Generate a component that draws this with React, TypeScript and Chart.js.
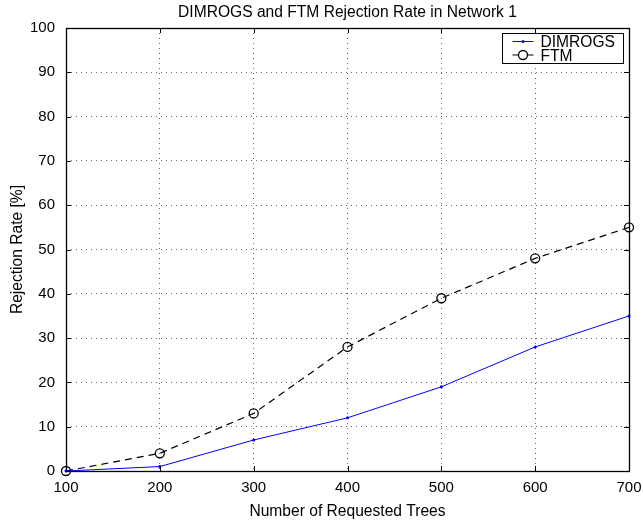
import React, { useEffect, useRef } from "react";
import { Chart, registerables } from "chart.js";

Chart.register(...registerables);

const requestedTrees = [100, 200, 300, 400, 500, 600, 700];
const dimrogsRejection = [0, 1, 7, 12, 19, 28, 35];
const ftmRejection = [0, 4, 13, 28, 39, 48, 55];

const FONT = "'Liberation Sans', Arial, Helvetica, sans-serif";
const TEXT_SIZE = 15.6;

// Box frame with inward tick marks on all four sides
const framePlugin = {
  id: "frame",
  afterDraw(chart: any) {
    const { ctx, chartArea, scales } = chart;
    const { left, right, top, bottom } = chartArea;
    const tl = 5;
    ctx.save();
    ctx.strokeStyle = "#000";
    ctx.lineWidth = 1;
    ctx.beginPath();
    scales.x.ticks.forEach((t: any) => {
      const x = Math.round(scales.x.getPixelForValue(t.value)) + 0.5;
      ctx.moveTo(x, bottom);
      ctx.lineTo(x, bottom - tl);
      ctx.moveTo(x, top);
      ctx.lineTo(x, top + tl);
    });
    scales.y.ticks.forEach((t: any) => {
      const y = Math.round(scales.y.getPixelForValue(t.value)) + 0.5;
      ctx.moveTo(left, y);
      ctx.lineTo(left + tl, y);
      ctx.moveTo(right, y);
      ctx.lineTo(right - tl, y);
    });
    ctx.stroke();
    ctx.lineWidth = 1.3;
    ctx.strokeRect(Math.round(left) + 0.5, Math.round(top) + 0.5, Math.round(right - left), Math.round(bottom - top));
    ctx.restore();
  },
};

// Boxed legend in the upper right corner of the plot area
const boxLegendPlugin = {
  id: "boxLegend",
  afterDraw(chart: any) {
    const { ctx, chartArea } = chart;
    const sets = chart.data.datasets;
    ctx.save();
    ctx.font = `${TEXT_SIZE}px ${FONT}`;
    const textW = Math.max(...sets.map((d: any) => ctx.measureText(d.label).width));
    const padL = 10;
    const lineLen = 21;
    const gap = 7;
    const padR = 8;
    const rowH = 13.5;
    const w = Math.round(padL + lineLen + gap + textW + padR);
    const h = 30;
    const x0 = Math.round(chartArea.right - 6 - w) + 0.5;
    const y0 = Math.round(chartArea.top + 5) + 0.5;
    ctx.fillStyle = "#fff";
    ctx.fillRect(x0, y0, w, h);
    ctx.strokeStyle = "#000";
    ctx.lineWidth = 1;
    ctx.strokeRect(x0, y0, w, h);
    sets.forEach((d: any, i: number) => {
      const cy = y0 + 8 + i * rowH;
      const lx = x0 + padL;
      ctx.strokeStyle = d.borderColor;
      ctx.lineWidth = 1;
      ctx.setLineDash([]);
      ctx.beginPath();
      ctx.moveTo(lx, cy);
      ctx.lineTo(lx + lineLen, cy);
      ctx.stroke();
      const mx = lx + lineLen / 2;
      ctx.beginPath();
      ctx.arc(mx, cy, d.pointRadius, 0, Math.PI * 2);
      if (d.pointBorderWidth > 0) {
        ctx.fillStyle = "#fff";
        ctx.fill();
        ctx.strokeStyle = d.pointBorderColor;
        ctx.lineWidth = d.pointBorderWidth;
        ctx.stroke();
      } else {
        ctx.fillStyle = d.pointBackgroundColor;
        ctx.fill();
      }
      ctx.fillStyle = "#000";
      ctx.textBaseline = "alphabetic";
      ctx.textAlign = "left";
      ctx.fillText(d.label, lx + lineLen + gap, cy + 5.5);
    });
    ctx.restore();
  },
};

export default function App() {
  const canvasRef = useRef<HTMLCanvasElement | null>(null);

  useEffect(() => {
    document.body.style.margin = "0";
    const canvas = canvasRef.current;
    if (!canvas) return;
    const chart = new Chart(canvas, {
      type: "line",
      data: {
        datasets: [
          {
            label: "DIMROGS",
            data: requestedTrees.map((x, i) => ({ x, y: dimrogsRejection[i] })),
            borderColor: "#0000ff",
            backgroundColor: "#0000ff",
            borderWidth: 1,
            pointRadius: 1.5,
            pointBackgroundColor: "#0000ff",
            pointBorderColor: "#0000ff",
            pointBorderWidth: 0,
            tension: 0,
            clip: false,
          },
          {
            label: "FTM",
            data: requestedTrees.map((x, i) => ({ x, y: ftmRejection[i] })),
            borderColor: "#000000",
            backgroundColor: "rgba(0,0,0,0)",
            borderWidth: 1.2,
            borderDash: [7, 5],
            pointRadius: 4.5,
            pointBackgroundColor: "rgba(0,0,0,0)",
            pointBorderColor: "#000000",
            pointBorderWidth: 1.3,
            tension: 0,
            clip: false,
          },
        ],
      },
      options: {
        animation: false,
        responsive: false,
        devicePixelRatio: 1,
        layout: { padding: { left: 0, right: 14, top: 0, bottom: 0 } },
        plugins: {
          legend: { display: false },
          tooltip: { enabled: false },
          title: {
            display: true,
            fullSize: false,
            text: "DIMROGS and FTM Rejection Rate in Network 1",
            color: "#000",
            font: { family: FONT, size: TEXT_SIZE, weight: "normal" },
            padding: { top: 3.5, bottom: 5.8 },
          },
        },
        scales: {
          x: {
            type: "linear",
            min: 100,
            max: 700,
            afterFit: (s: any) => {
              s.height = 52;
              s.paddingLeft = 0;
              s.paddingRight = 0;
            },
            ticks: {
              stepSize: 100,
              color: "#000",
              font: { family: FONT, size: 15 },
              padding: 8,
              maxRotation: 0,
            },
            grid: { color: "#666", lineWidth: 1, drawTicks: false },
            border: { display: false, dash: [1, 4] },
            title: {
              display: true,
              text: "Number of Requested Trees",
              color: "#000",
              font: { family: FONT, size: TEXT_SIZE },
              padding: { top: 0, bottom: 2 },
            },
          },
          y: {
            type: "linear",
            min: 0,
            max: 100,
            afterFit: (s: any) => {
              s.width = 66;
              s.paddingTop = 0;
              s.paddingBottom = 0;
            },
            ticks: {
              stepSize: 10,
              color: "#000",
              font: { family: FONT, size: 15 },
              padding: 11,
            },
            grid: { color: "#666", lineWidth: 1, drawTicks: false },
            border: { display: false, dash: [1, 4] },
            title: {
              display: true,
              text: "Rejection Rate [%]",
              color: "#000",
              font: { family: FONT, size: TEXT_SIZE },
              padding: { top: 8, bottom: 0 },
            },
          },
        },
      },
      plugins: [framePlugin, boxLegendPlugin],
    });
    return () => chart.destroy();
  }, []);

  return (
    <div style={{ width: 643, height: 523, background: "#fff" }}>
      <canvas ref={canvasRef} width={643} height={523} />
    </div>
  );
}
